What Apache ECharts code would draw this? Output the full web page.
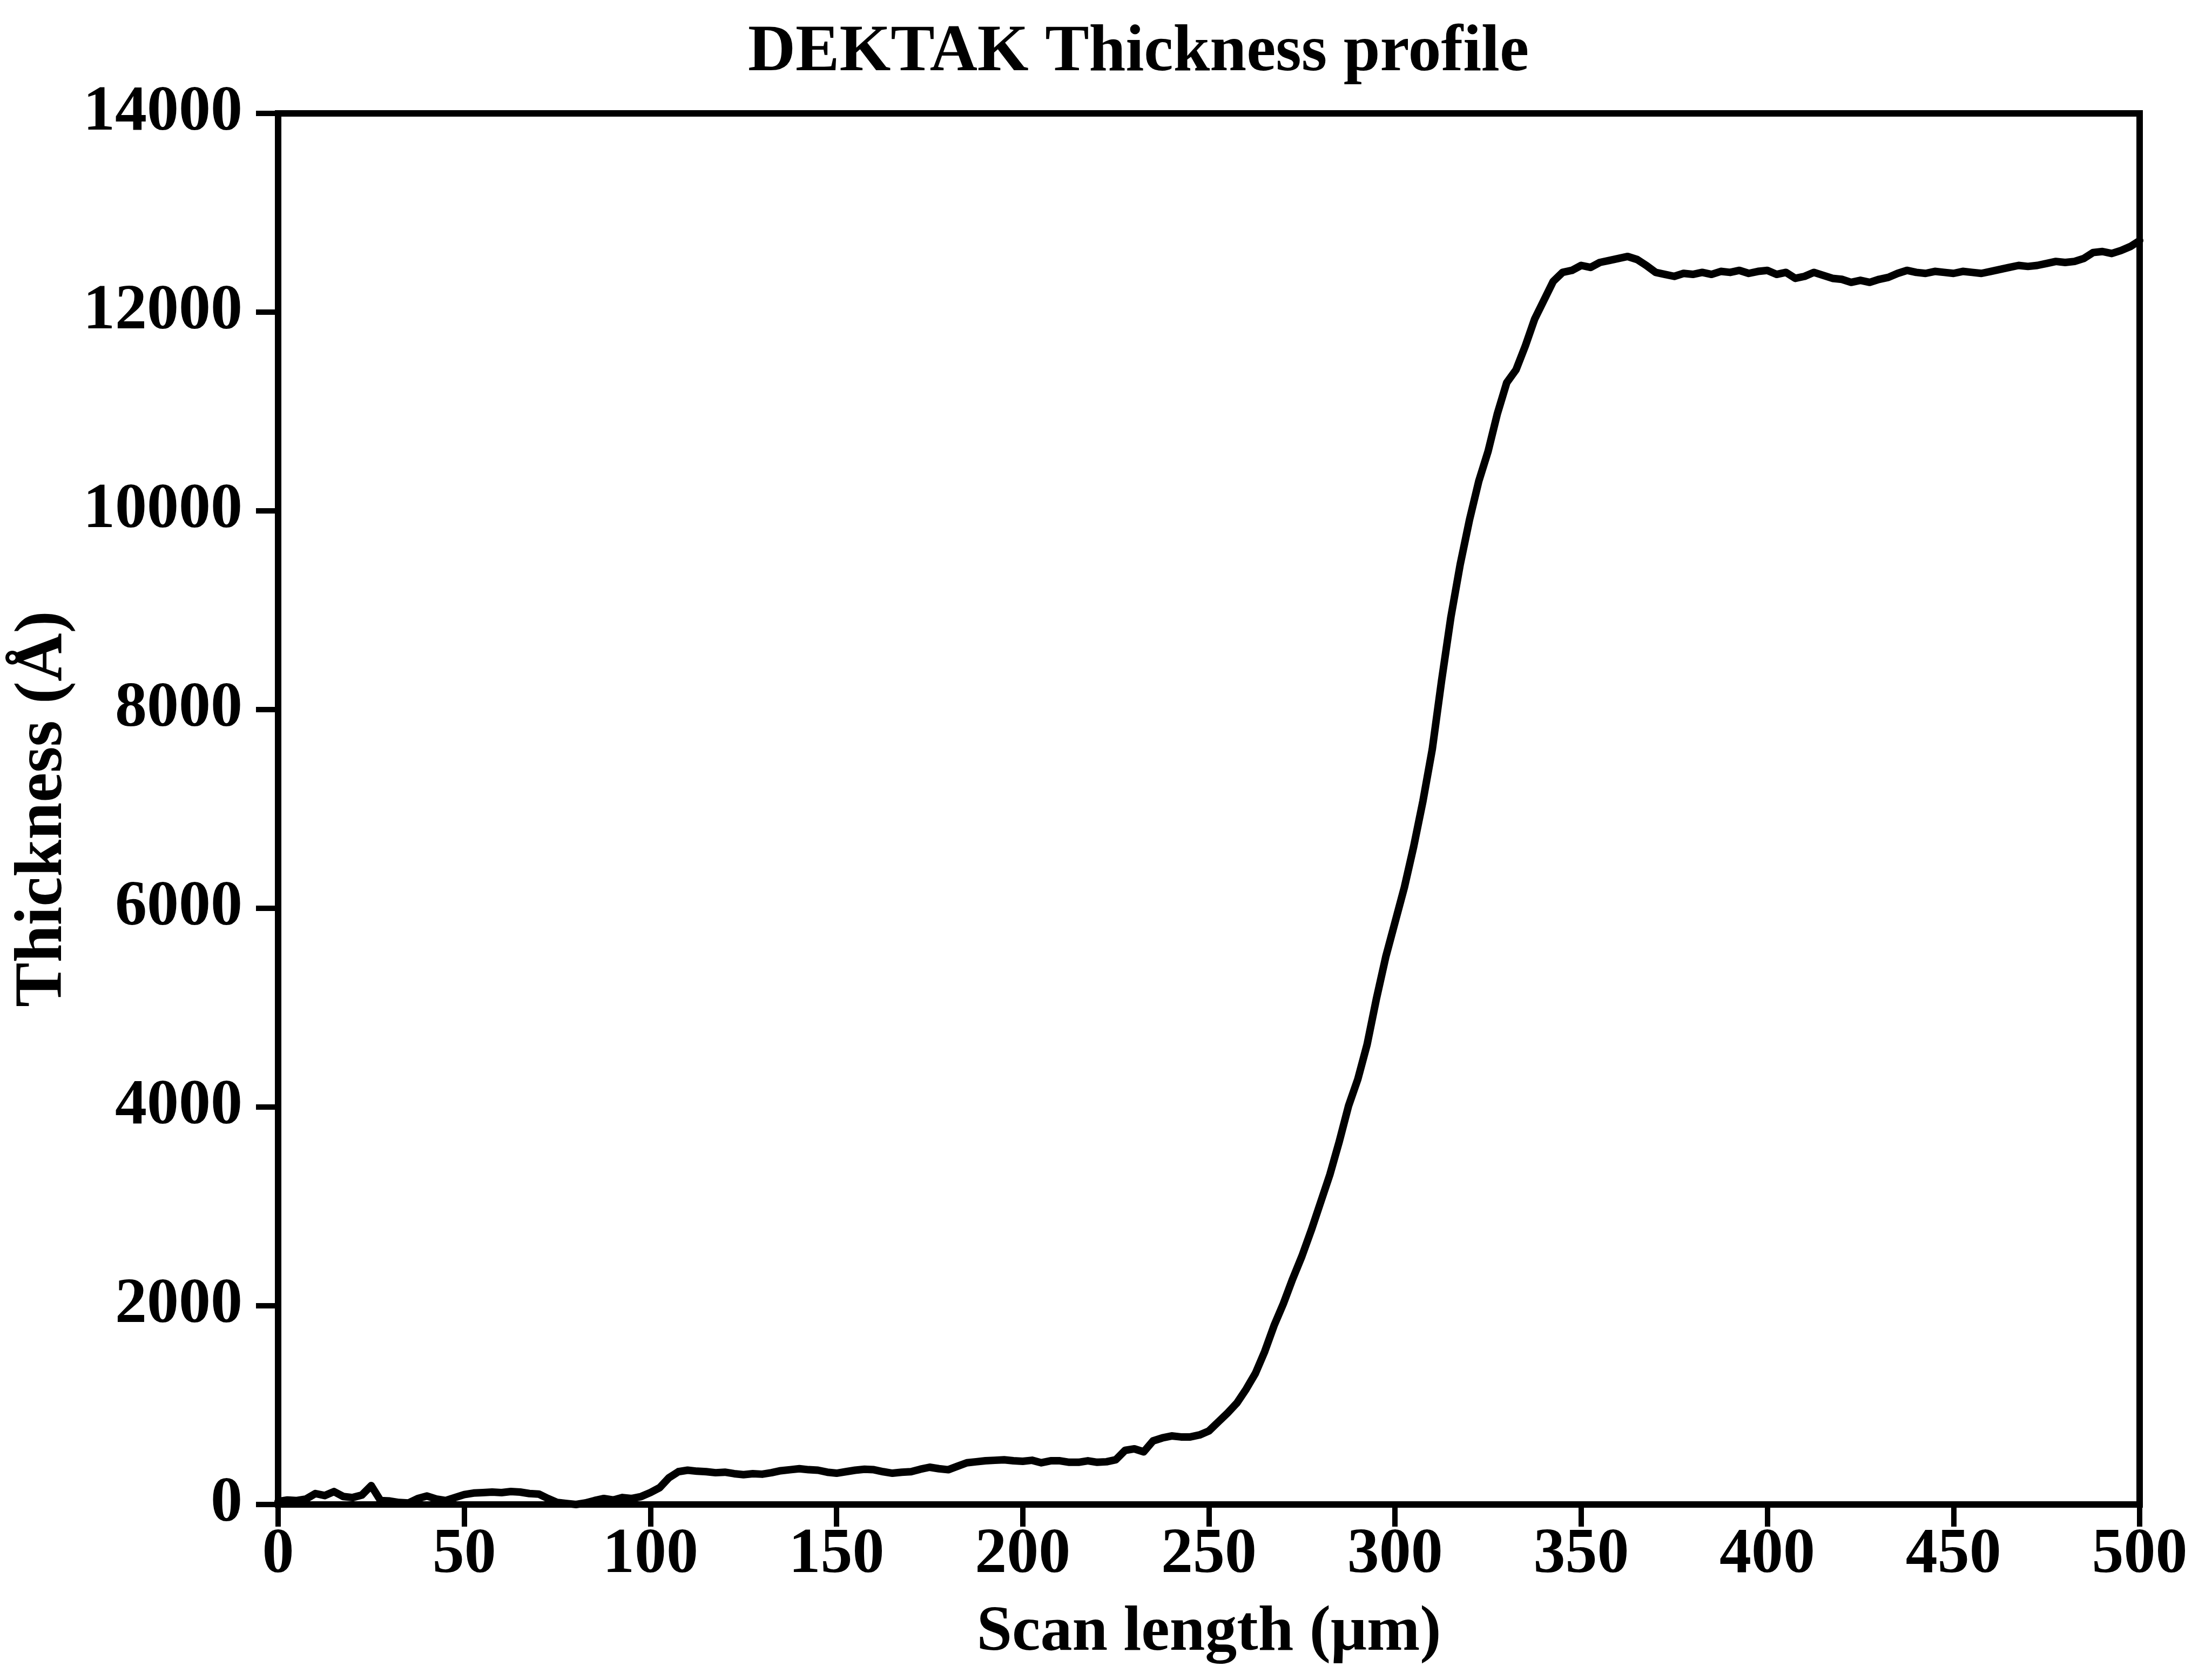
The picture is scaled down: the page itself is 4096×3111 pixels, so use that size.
<!DOCTYPE html>
<html>
<head>
<meta charset="utf-8">
<script src="https://cdn.jsdelivr.net/npm/echarts@6/dist/echarts.min.js"></script>
<style>
html,body{margin:0;padding:0;background:#ffffff;}
#chart{width:4096px;height:3111px;}
</style>
</head>
<body>
<div id="chart"></div>
<script>
// ---- data ----
const titleText = 'DEKTAK Thickness profile';
const xAxisName = 'Scan length (μm)';
const yAxisName = 'Thickness (Å)';

const scanX = [
  0,2.5,5,7.5,10,12.5,15,17.5,20,22.5,25,27.5,30,32.5,35,37.5,40,42.5,45,47.5,
  50,52.5,55,57.5,60,62.5,65,67.5,70,72.5,75,77.5,80,82.5,85,87.5,90,92.5,95,97.5,
  100,102.5,105,107.5,110,112.5,115,117.5,120,122.5,125,127.5,130,132.5,135,137.5,140,142.5,145,147.5,
  150,152.5,155,157.5,160,162.5,165,167.5,170,172.5,175,177.5,180,182.5,185,187.5,190,192.5,195,197.5,
  200,202.5,205,207.5,210,212.5,215,217.5,220,222.5,225,227.5,230,232.5,235,237.5,240,242.5,245,247.5,
  250,252.5,255,257.5,260,262.5,265,267.5,270,272.5,275,277.5,280,282.5,285,287.5,290,292.5,295,297.5,
  300,302.5,305,307.5,310,312.5,315,317.5,320,322.5,325,327.5,330,332.5,335,337.5,340,342.5,345,347.5,
  350,352.5,355,357.5,360,362.5,365,367.5,370,372.5,375,377.5,380,382.5,385,387.5,390,392.5,395,397.5,
  400,402.5,405,407.5,410,412.5,415,417.5,420,422.5,425,427.5,430,432.5,435,437.5,440,442.5,445,447.5,
  450,452.5,455,457.5,460,462.5,465,467.5,470,472.5,475,477.5,480,482.5,485,487.5,490,492.5,495,497.5,
  500
];

const thickness = [
  30,45,40,55,110,90,130,80,70,95,190,40,35,20,15,60,85,55,40,70,
  100,115,120,125,120,130,125,110,105,60,20,10,0,15,40,60,45,70,60,80,
  120,170,270,330,345,335,330,320,325,310,300,310,305,320,340,350,360,350,345,325,
  315,330,345,355,350,330,315,325,330,355,375,360,350,385,420,430,440,445,450,440,
  435,445,420,440,440,425,425,440,425,430,450,545,560,530,640,670,690,680,680,700,
  740,830,920,1020,1160,1320,1540,1800,2020,2270,2500,2760,3040,3320,3650,4010,4280,4630,5090,5510,
  5860,6210,6620,7080,7600,8290,8930,9460,9910,10300,10600,10980,11290,11420,11660,11930,12120,12310,12400,12420,
  12470,12450,12500,12520,12540,12560,12530,12470,12400,12380,12360,12390,12380,12400,12380,12410,12400,12420,12390,12410,
  12420,12380,12400,12340,12360,12400,12370,12340,12330,12300,12320,12300,12330,12350,12390,12420,12400,12390,12410,12400,
  12390,12410,12400,12390,12410,12430,12450,12470,12460,12470,12490,12510,12500,12510,12540,12600,12610,12590,12620,12660,
  12720
];

const xMin = 0, xMax = 500, xStep = 50;
const yMin = 0, yMax = 14000, yStep = 2000;

// ---- chart ----
const FONT = '"Liberation Serif", "DejaVu Serif", serif';
const TITLE_SIZE = 122;
const meas = document.createElement('canvas').getContext('2d');
meas.font = 'bold ' + TITLE_SIZE + 'px ' + FONT;
const titleW = meas.measureText(titleText).width;

const seriesData = scanX.map((x, i) => [x, thickness[i]]);

const chart = echarts.init(document.getElementById('chart'), null, {renderer: 'canvas'});
chart.setOption({
  backgroundColor: '#ffffff',
  animation: false,
  title: {
    text: titleText,
    left: Math.round(2103 - titleW / 2),
    top: 32,
    textStyle: {fontFamily: FONT, fontWeight: 'bold', fontSize: TITLE_SIZE, color: '#000'}
  },
  grid: {
    left: 515, right: 134, top: 210, bottom: 325,
    show: true, borderColor: '#000', borderWidth: 12, backgroundColor: 'transparent'
  },
  xAxis: {
    type: 'value', min: xMin, max: xMax, interval: xStep,
    name: xAxisName, nameLocation: 'middle', nameGap: 180,
    nameTextStyle: {fontFamily: FONT, fontWeight: 'bold', fontSize: 118, color: '#000'},
    axisLine: {show: true, lineStyle: {color: '#000', width: 12}},
    axisTick: {show: true, inside: false, length: 41, lineStyle: {color: '#000', width: 10}},
    axisLabel: {margin: 36, fontFamily: FONT, fontWeight: 'bold', fontSize: 118, color: '#000',
      formatter: v => String(v)},
    splitLine: {show: false}
  },
  yAxis: {
    type: 'value', min: yMin, max: yMax, interval: yStep,
    name: yAxisName, nameLocation: 'middle', nameGap: 310, nameRotate: 90,
    nameTextStyle: {fontFamily: FONT, fontWeight: 'bold', fontSize: 124, color: '#000'},
    axisLine: {show: true, lineStyle: {color: '#000', width: 12}},
    axisTick: {show: true, inside: false, length: 41, lineStyle: {color: '#000', width: 10}},
    axisLabel: {margin: 66, fontFamily: FONT, fontWeight: 'bold', fontSize: 118, color: '#000',
      formatter: v => String(v)},
    splitLine: {show: false}
  },
  series: [{
    type: 'line',
    data: seriesData,
    showSymbol: false,
    smooth: false,
    lineStyle: {color: '#000', width: 14, join: 'round', cap: 'round'},
    z: 3
  }]
});
</script>
</body>
</html>
